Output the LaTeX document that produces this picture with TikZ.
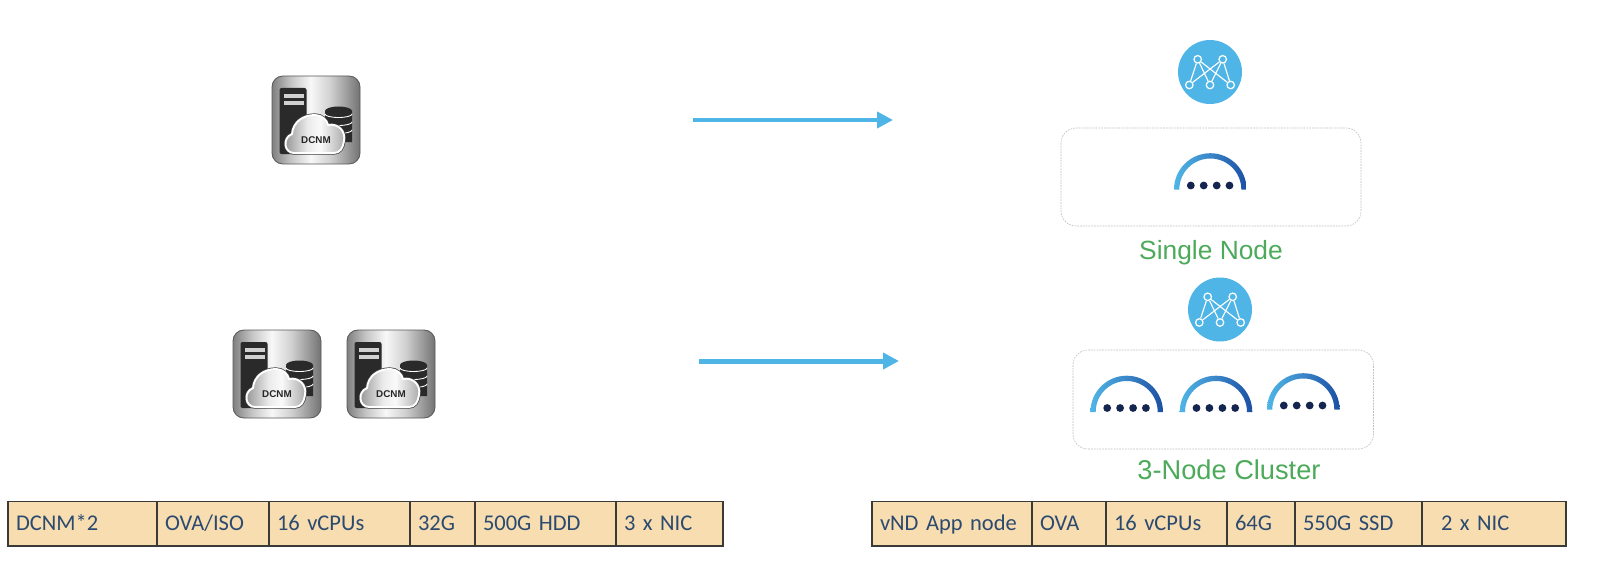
\documentclass[tikz,border=0pt]{standalone}
\usepackage{fontspec}
\usepackage{xcolor}
\setmainfont{Liberation Sans}
\newfontfamily\cellfont{Carlito}
\usetikzlibrary{arrows.meta}

\definecolor{flowblue}{HTML}{4FB5E6}
\definecolor{archlight}{HTML}{4FB5E6}
\definecolor{archmid}{HTML}{3A86C8}
\definecolor{archdark}{HTML}{1B4FA3}
\definecolor{dotnavy}{HTML}{14264F}
\definecolor{labelgreen}{HTML}{4CAA5A}
\definecolor{cellfill}{HTML}{F8DDB0}
\definecolor{cellink}{HTML}{2B4A6F}
\definecolor{celledge}{HTML}{3A3A36}
\definecolor{towerdark}{HTML}{2A2A2A}

\pgfdeclarehorizontalshading{metal}{100bp}{
color(0bp)=(black!50); color(25bp)=(black!50); color(36bp)=(black!22); color(47bp)=(black!3);
color(58bp)=(black!18); color(75bp)=(black!55); color(100bp)=(black!55)}
\pgfdeclarehorizontalshading{cloudmetal}{100bp}{
color(0bp)=(black!45); color(25bp)=(black!45); color(45bp)=(black!8);
color(55bp)=(black!2); color(75bp)=(black!35); color(100bp)=(black!35)}

\newcommand{\Server}[3]{
\begin{scope}[shift={(#2,#3)}]
\shade[rounded corners=2.2mm, draw=black!65, line width=0.5pt, shading=metal] (0,0) rectangle (88,-88);
\fill[towerdark, rounded corners=0.4mm] (7.5,-12) rectangle (34.5,-78);
\fill[black!18] (12,-18) rectangle (32,-22);
\fill[black!18] (12,-25) rectangle (32,-29);
\fill[towerdark] (53,-35) -- (53,-66) -- (80,-66) -- (80,-35) arc (0:180:13.5 and 4.5) -- cycle;
\draw[white, line width=0.5pt] (53,-38) arc (180:360:13.5 and 3.5);
\draw[white, line width=0.5pt] (53,-46) arc (180:360:13.5 and 3.5);
\draw[white, line width=0.5pt] (53,-54) arc (180:360:13.5 and 3.5);
\shade[draw=white, line width=1.1pt, preaction={draw=black!75, line width=1.9pt}, shading=cloudmetal]
(22,-77) .. controls (12,-77) and (10,-62) .. (20,-58)
.. controls (21,-46) and (31,-39) .. (43,-39)
.. controls (50,-39) and (55,-44) .. (56,-49)
.. controls (66,-47) and (74,-55) .. (72,-65)
.. controls (71,-72) and (68,-77) .. (62,-77) -- cycle;
\node[ServerText] (#1) at (44,-64) {DCNM};
\end{scope}
}

\newcommand{\Hub}[3]{
\begin{scope}[shift={(#2,#3)}]
\node[HubStyle] (#1) at (0,0) {};
\node[PortStyle] (#1t1) at (-12.3,12.7) {};
\node[PortStyle] (#1t2) at (12.7,12.7) {};
\node[PortStyle] (#1b1) at (-20.7,-13) {};
\node[PortStyle] (#1b2) at (0,-13) {};
\node[PortStyle] (#1b3) at (20.7,-13) {};
\foreach \t in {t1,t2}
  \foreach \b in {b1,b2,b3}
    \draw[LinkStyle] (#1\t) -- (#1\b);
\end{scope}
}

\newcommand{\Arch}[2]{
\begin{scope}[shift={(#1,#2)}]
\shade[left color=archlight, right color=archdark, middle color=archmid] (-36.3,0) arc (180:0:36.3) -- (31,0) arc (0:180:31) -- cycle;
\fill[dotnavy] (-19.5,4) circle (3.9);
\fill[dotnavy] (-6.6,4) circle (3.9);
\fill[dotnavy] (6.4,4) circle (3.9);
\fill[dotnavy] (19.2,4) circle (3.9);
\end{scope}
}

\newcommand{\Cell}[4]{
\node[CellStyle, minimum width=(#3-#2)*0.02cm, text width=(#3-#2-16)*0.02cm] (#1) at (#2,84.5) {\rule[-4.2pt]{0pt}{16.3pt}#4};
}

\begin{document}
\begin{tikzpicture}[x=0.02cm, y=0.02cm]
\useasboundingbox (0,0) rectangle (1600,586);

\tikzstyle{ServerText}=[font=\bfseries\fontsize{5.6}{6}\selectfont, text=black!85, inner sep=0pt]
\tikzstyle{HubStyle}=[circle, fill=flowblue, minimum size=1.28cm, inner sep=0pt]
\tikzstyle{PortStyle}=[circle, draw=white, line width=0.7pt, fill=flowblue, minimum size=0.15cm, inner sep=0pt]
\tikzstyle{LinkStyle}=[white, line width=0.65pt]
\tikzstyle{FrameStyle}=[draw=black!25, dashed, dash pattern=on 1pt off 0.6pt, line width=0.35pt, rounded corners=3mm, inner sep=0pt]
\tikzstyle{CaptionStyle}=[text=labelgreen, inner sep=0pt]
\tikzstyle{FlowStyle}=[draw=flowblue, line width=0.1cm, -{Triangle[length=0.32cm, width=0.32cm]}]
\tikzstyle{CellStyle}=[draw=celledge, fill=cellfill, line width=0.8pt, anchor=north west, minimum height=0.89cm, inner xsep=0.16cm, inner ysep=0pt, outer sep=0pt, align=left, text=cellink, font=\cellfont\fontsize{12.8}{14}\selectfont]

\Server{srvA}{272}{510}
\Server{srvB}{233}{256}
\Server{srvC}{347}{256}

\coordinate (flowAs) at (693,466);
\coordinate (flowAe) at (893,466);
\coordinate (flowBs) at (699,225);
\coordinate (flowBe) at (899,225);
\draw[FlowStyle] (flowAs) -- (flowAe);
\draw[FlowStyle] (flowBs) -- (flowBe);

\Hub{hubA}{1210}{514}
\Hub{hubB}{1220}{276.5}

\draw[FrameStyle] (1061,458) rectangle (1361,360);
\draw[FrameStyle] (1073,236) rectangle (1373.5,137);

\Arch{1210.3}{396.5}
\Arch{1126.7}{174}
\Arch{1216}{174}
\Arch{1303.3}{176.5}

\node[CaptionStyle, font=\fontsize{15}{18}\selectfont] (capA) at (1211,333) {Single Node};
\node[CaptionStyle, font=\fontsize{15.5}{19}\selectfont] (capB) at (1229,116) {3-Node Cluster};

\Cell{la}{8}{157}{DCNM*2}
\Cell{lb}{157}{269}{OVA/ISO}
\Cell{lc}{269}{410}{16 vCPUs}
\Cell{ld}{410}{475}{32G}
\Cell{le}{475}{616}{500G HDD}
\Cell{lf}{616}{723}{3 x NIC}

\Cell{ra}{872}{1032}{vND App node}
\Cell{rb}{1032}{1106}{OVA}
\Cell{rc}{1106}{1227}{16 vCPUs}
\Cell{rd}{1227}{1295}{64G}
\Cell{re}{1295}{1422}{550G SSD}
\Cell{rf}{1422}{1566}{\hspace*{0.22cm}2 x NIC}

\end{tikzpicture}
\end{document}
